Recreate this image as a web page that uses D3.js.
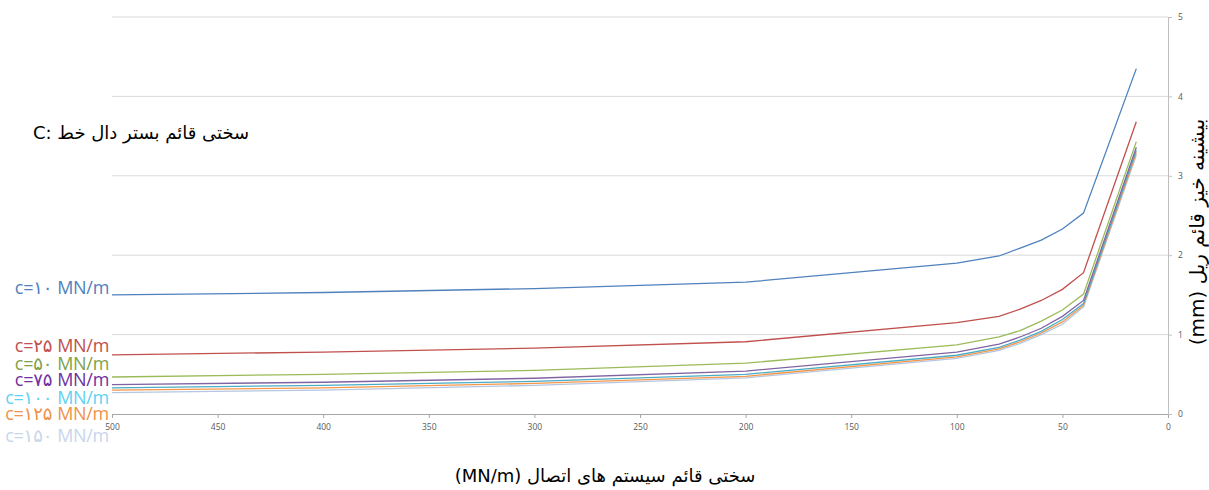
<!DOCTYPE html>
<html>
<head>
<meta charset="utf-8">
<script src="https://cdn.jsdelivr.net/npm/d3@7"></script>
<style>
  body { margin: 0; background: #fff; }
  svg { display: block; }
</style>
</head>
<body>
<div id="root"></div>
<script>
// x: connection system stiffness (MN/m), reversed axis
const xValues = [500, 400, 300, 200, 100, 80, 70, 60, 50, 40, 15];

const seriesNames = ["c=۱۰ MN/m", "c=۲۵ MN/m", "c=۵۰ MN/m", "c=۷۵ MN/m", "c=۱۰۰ MN/m", "c=۱۲۵ MN/m", "c=۱۵۰ MN/m"];

const c10  = [1.50, 1.53, 1.58, 1.66, 1.90, 1.99, 2.09, 2.19, 2.33, 2.53, 4.35];
const c25  = [0.745, 0.78, 0.83, 0.91, 1.15, 1.23, 1.32, 1.43, 1.57, 1.78, 3.68];
const c50  = [0.466, 0.50, 0.55, 0.64, 0.87, 0.97, 1.05, 1.17, 1.31, 1.51, 3.43];
const c75  = [0.37, 0.40, 0.45, 0.54, 0.78, 0.88, 0.97, 1.08, 1.23, 1.43, 3.36];
const c100 = [0.33, 0.36, 0.41, 0.50, 0.74, 0.84, 0.93, 1.04, 1.19, 1.39, 3.32];
const c125 = [0.30, 0.33, 0.385, 0.475, 0.72, 0.82, 0.91, 1.02, 1.16, 1.37, 3.29];
const c150 = [0.27, 0.30, 0.36, 0.455, 0.70, 0.80, 0.89, 1.00, 1.13, 1.35, 3.26];

const xTicks = [500, 450, 400, 350, 300, 250, 200, 150, 100, 50, 0];
const yTicks = [0, 1, 2, 3, 4, 5];

const allSeries = [c10, c25, c50, c75, c100, c125, c150];

// styling
const lineColors  = ["#4f81bd", "#c0504d", "#9bbb59", "#8064a2", "#4bacc6", "#f79646", "#b3c7e3"];
const labelColors = ["#4f81bd", "#c0504d", "#7fa24a", "#7030a0", "#5fd2f2", "#f0924c", "#c8d6ea"];
const labelY = [288, 346, 364, 380, 398, 414, 436];

const width = 1209, height = 490;
const plot = {left: 112, right: 1168, top: 17, bottom: 414};

const svg = d3.select("#root").append("svg")
    .attr("width", width)
    .attr("height", height);

const x = d3.scaleLinear().domain([500, 0]).range([plot.left, plot.right]);
const y = d3.scaleLinear().domain([0, 5]).range([plot.bottom, plot.top]);

// gridlines
svg.append("g").selectAll("line")
    .data(yTicks.filter(d => d > 0))
    .enter().append("line")
    .attr("x1", plot.left).attr("x2", plot.right)
    .attr("y1", d => y(d)).attr("y2", d => y(d))
    .attr("stroke", "#d9d9d9")
    .attr("stroke-width", 1);

// x axis
const xAxis = svg.append("g")
    .attr("transform", `translate(0,${plot.bottom})`)
    .call(d3.axisBottom(x).tickValues(xTicks).tickSize(4).tickSizeOuter(0).tickPadding(6));
xAxis.select(".domain").attr("stroke", "#a6a6a6");
xAxis.selectAll(".tick line").attr("stroke", "#a6a6a6");
xAxis.selectAll(".tick text")
    .attr("fill", "#595959")
    .style("font-family", "'Open Sans', 'DejaVu Sans', sans-serif")
    .style("font-size", "8.5px");

// y axis on the right
const yAxis = svg.append("g")
    .attr("transform", `translate(${plot.right},0)`)
    .call(d3.axisRight(y).tickValues(yTicks).tickFormat(d3.format("d"))
        .tickSize(4).tickSizeOuter(0).tickPadding(6));
yAxis.select(".domain").attr("stroke", "#bfbfbf");
yAxis.selectAll(".tick line").attr("stroke", "#bfbfbf");
yAxis.selectAll(".tick text")
    .attr("fill", "#595959")
    .style("font-family", "'Open Sans', 'DejaVu Sans', sans-serif")
    .style("font-size", "8.5px");

// lines
const line = d3.line()
    .x((d, i) => x(xValues[i]))
    .y(d => y(d));

svg.append("g").selectAll("path")
    .data(allSeries.slice().reverse())
    .enter().append("path")
    .attr("d", line)
    .attr("fill", "none")
    .attr("stroke", (d, i) => lineColors[allSeries.length - 1 - i])
    .attr("stroke-width", 1.3);

// series labels on the left
svg.append("g").selectAll("text")
    .data(seriesNames)
    .enter().append("text")
    .attr("x", 109)
    .attr("y", (d, i) => labelY[i])
    .attr("dy", "0.35em")
    .attr("text-anchor", "end")
    .attr("fill", (d, i) => labelColors[i])
    .style("font-family", "'Open Sans', 'DejaVu Sans', sans-serif")
    .style("font-size", "18px")
    .style("letter-spacing", "-0.3px")
    .text(d => d);

// annotation
svg.append("text")
    .attr("x", 33)
    .attr("y", 139)
    .attr("fill", "#000")
    .style("font-family", "'DejaVu Sans', sans-serif")
    .style("font-size", "18px")
    .text("C: سختی قائم بستر دال خط");

// x axis title
svg.append("text")
    .attr("x", 605)
    .attr("y", 482)
    .attr("text-anchor", "middle")
    .attr("fill", "#000")
    .style("font-family", "'DejaVu Sans', sans-serif")
    .style("font-size", "18px")
    .text("(MN/m) سختی قائم سیستم های اتصال");

// y axis title
svg.append("text")
    .attr("transform", "translate(1197,232) rotate(-90)")
    .attr("text-anchor", "middle")
    .attr("dy", "0.35em")
    .attr("fill", "#000")
    .style("font-family", "'DejaVu Sans', sans-serif")
    .style("font-size", "20px")
    .text("(mm) بیشینه خیز قائم ریل");
</script>
</body>
</html>
